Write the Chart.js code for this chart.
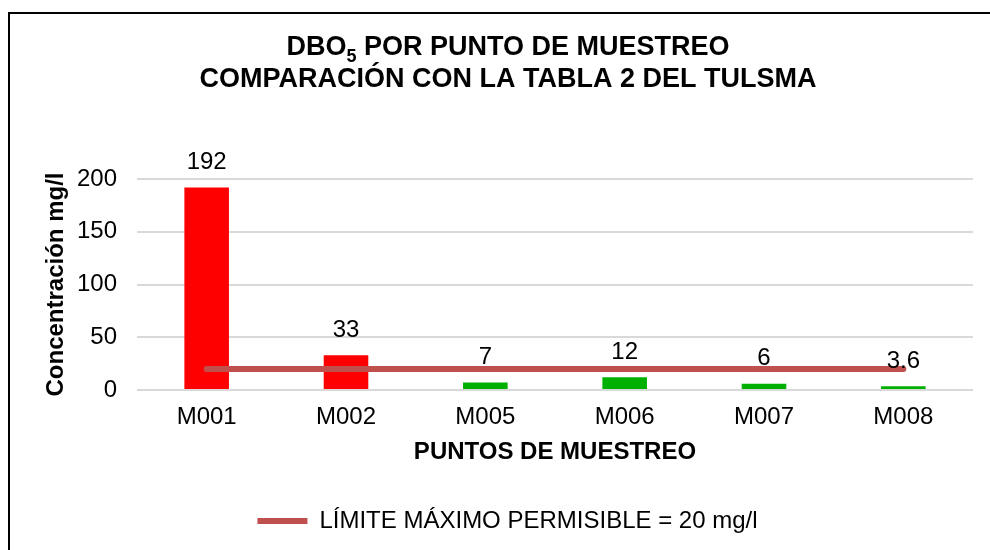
<!DOCTYPE html>
<html lang="es">
<head>
    <meta charset="UTF-8">
    <title>DBO5 por punto de muestreo</title>
    <style>
        html, body { margin: 0; padding: 0; background: #fff; overflow: hidden; }
        .frame {
            position: absolute; left: 8px; top: 12px;
            width: 1200px; height: 800px;
            border-left: 2px solid #000; border-top: 2px solid #000;
        }
        .wrap { position: absolute; left: 0; top: 0; width: 990px; height: 550px; }
    </style>
</head>
<body>

<div class="frame"></div>
<div class="wrap">
    <canvas id="dboChart" width="990" height="550"></canvas>
</div>

<script src="https://cdn.jsdelivr.net/npm/chart.js@4/dist/chart.umd.min.js"></script>
<script>
    // puntos de muestreo y DBO5 medido (mg/l)
    var puntos = ['M001', 'M002', 'M005', 'M006', 'M007', 'M008'];
    var dbo = [192, 33, 7, 12, 6, 3.6];
    var limite = [20, 20, 20, 20, 20, 20];
    var yTicks = [0, 50, 100, 150, 200];

    var LIMITE_MAX = 20;
    var fontFamily = "'Liberation Sans', Arial, sans-serif";
    Chart.defaults.font.family = fontFamily;
    Chart.defaults.color = '#000';

    // rojo si supera el limite, verde si cumple
    var barColors = dbo.map(function (v) { return v > LIMITE_MAX ? '#ff0000' : '#00b000'; });

    // titulo de dos lineas con el subindice de DBO5
    var titlePlugin = {
        id: 'titulo',
        afterDraw: function (chart) {
            var ctx = chart.ctx;
            var cx = 508;
            ctx.save();
            ctx.fillStyle = '#000';
            ctx.textBaseline = 'middle';

            var big = 'bold 27px ' + fontFamily;
            var small = 'bold 18px ' + fontFamily;
            ctx.font = big;
            var wA = ctx.measureText('DBO').width;
            var wC = ctx.measureText(' POR PUNTO DE MUESTREO').width;
            ctx.font = small;
            var wB = ctx.measureText('5').width;
            var x = cx - (wA + wB + wC) / 2;
            ctx.textAlign = 'left';
            ctx.font = big;
            ctx.fillText('DBO', x, 48);
            ctx.font = small;
            ctx.fillText('5', x + wA, 57);
            ctx.font = big;
            ctx.fillText(' POR PUNTO DE MUESTREO', x + wA + wB, 48);

            ctx.textAlign = 'center';
            ctx.fillText('COMPARACIÓN CON LA TABLA 2 DEL TULSMA', cx, 80);
            ctx.restore();
        }
    };

    // valores encima de cada barra
    var valueLabels = {
        id: 'valores',
        afterDatasetsDraw: function (chart) {
            var ctx = chart.ctx;
            var meta = chart.getDatasetMeta(1);
            ctx.save();
            ctx.font = '24px ' + fontFamily;
            ctx.fillStyle = '#000';
            ctx.textAlign = 'center';
            ctx.textBaseline = 'middle';
            meta.data.forEach(function (bar, i) {
                ctx.fillText(String(dbo[i]), bar.x, bar.y - 25);
            });
            ctx.restore();
        }
    };

    var ctx = document.getElementById('dboChart').getContext('2d');
    new Chart(ctx, {
        data: {
            labels: puntos,
            datasets: [
                {
                    type: 'line',
                    label: 'LÍMITE MÁXIMO PERMISIBLE = 20 mg/l',
                    data: limite,
                    borderColor: '#c0504d',
                    backgroundColor: '#c0504d',
                    borderWidth: 6,
                    borderCapStyle: 'round',
                    pointRadius: 0,
                    pointHoverRadius: 0,
                    fill: false,
                    order: 0
                },
                {
                    type: 'bar',
                    label: 'DBO5',
                    data: dbo,
                    backgroundColor: barColors,
                    barPercentage: 0.32,
                    categoryPercentage: 1,
                    order: 1
                }
            ]
        },
        options: {
            responsive: false,
            animation: false,
            layout: { padding: { left: 42, right: 17, top: 179, bottom: 7 } },
            plugins: {
                tooltip: { enabled: false },
                legend: {
                    position: 'bottom',
                    labels: {
                        filter: function (item) { return item.datasetIndex === 0; },
                        usePointStyle: true,
                        pointStyle: 'line',
                        pointStyleWidth: 50,
                        font: { size: 24 },
                        color: '#000',
                        padding: 10
                    }
                }
            },
            scales: {
                x: {
                    grid: { display: false, drawTicks: false },
                    border: { display: false },
                    ticks: { font: { size: 24 }, padding: 13, color: '#000' },
                    title: {
                        display: true,
                        text: 'PUNTOS DE MUESTREO',
                        font: { size: 24, weight: 'bold' },
                        color: '#000',
                        padding: { top: 0, bottom: 32 }
                    },
                    afterFit: function (scale) { scale.height = 109; }
                },
                y: {
                    min: 0,
                    max: 200,
                    afterBuildTicks: function (scale) {
                        scale.ticks = yTicks.map(function (v) { return { value: v }; });
                    },
                    grid: { color: '#d9d9d9', lineWidth: 2, drawTicks: false },
                    border: { display: false },
                    ticks: { font: { size: 24 }, padding: 20, color: '#000' },
                    title: {
                        display: true,
                        text: 'Concentración mg/l',
                        font: { size: 24, weight: 'bold' },
                        color: '#000',
                        padding: { top: 0, bottom: 0 }
                    },
                    afterFit: function (scale) { scale.width = 95; }
                }
            }
        },
        plugins: [titlePlugin, valueLabels]
    });
</script>

</body>
</html>
